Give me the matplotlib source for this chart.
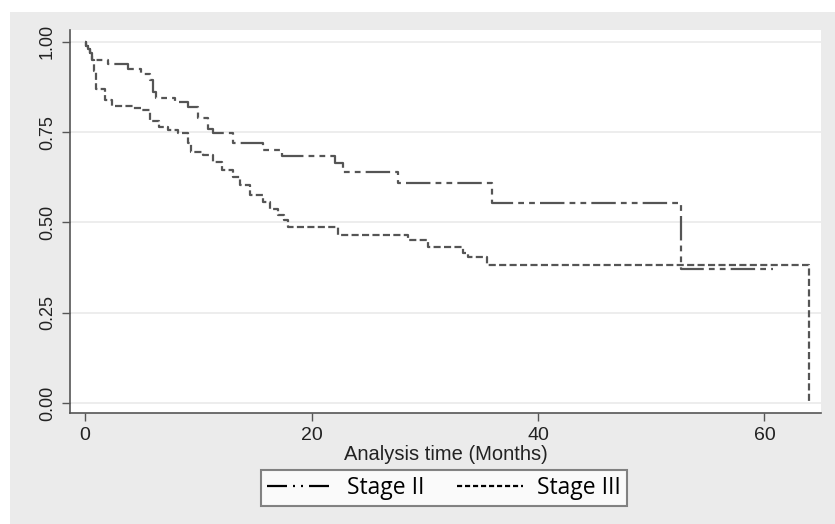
import matplotlib
matplotlib.use('Agg')
import matplotlib.pyplot as plt
from matplotlib.patches import Rectangle

# Kaplan-Meier estimates (time in months, survival after the step)
stage2_time = [0, 0.1, 0.25, 0.4, 0.6, 2.0, 3.8, 4.9, 5.7, 6.0, 6.3, 7.9, 9.1, 10.0, 10.9, 11.3,
               13.1, 15.7, 17.4, 22.1, 22.8, 27.6, 35.9, 52.6, 60.8]
stage2_surv = [1.0, 0.99, 0.98, 0.97, 0.95, 0.94, 0.925, 0.91, 0.894, 0.86, 0.844, 0.833, 0.82,
               0.79, 0.76, 0.747, 0.72, 0.70, 0.683, 0.664, 0.64, 0.61, 0.553, 0.37, 0.37]

stage3_time = [0, 0.1, 0.25, 0.4, 0.6, 0.8, 1.0, 1.8, 2.4, 4.2, 5.0, 5.7, 6.5, 7.3, 8.2, 9.1,
               9.4, 10.4, 11.3, 12.1, 13.1, 13.7, 14.6, 15.7, 16.3, 17.0, 17.6, 17.9, 22.3,
               28.5, 30.3, 33.4, 33.8, 35.5, 63.9]
stage3_surv = [1.0, 0.99, 0.98, 0.97, 0.95, 0.92, 0.87, 0.84, 0.822, 0.817, 0.81, 0.78, 0.765,
               0.756, 0.747, 0.72, 0.695, 0.686, 0.668, 0.645, 0.627, 0.603, 0.575, 0.556,
               0.538, 0.52, 0.506, 0.487, 0.464, 0.45, 0.433, 0.415, 0.403, 0.383, 0.0]

x_ticks = [0, 20, 40, 60]
y_ticks = [0.0, 0.25, 0.5, 0.75, 1.0]
y_labels = ['0.00', '0.25', '0.50', '0.75', '1.00']
labels = ['Stage II', 'Stage III']

axis_font = ['Liberation Sans', 'DejaVu Sans']
line_col = '#555555'
lw = 1.6

fig = plt.figure(figsize=(8.35, 5.24), dpi=100, facecolor='white')
# grey Stata-like background panel
fig.patches.append(Rectangle((10 / 835, 0), 1, 1 - 12 / 524, transform=fig.transFigure,
                             facecolor='#ebebeb', edgecolor='none', zorder=-10))

ax = fig.add_axes([70 / 835, 111 / 524, 751 / 835, 383 / 524])
ax.set_facecolor('white')

# dash lengths are in multiples of the line width
l2, = ax.step(stage2_time, stage2_surv, where='post', color=line_col, lw=lw,
              dashes=(11, 2.3, 2.6, 2.3, 2.6, 2.3))
l3, = ax.step(stage3_time, stage3_surv, where='post', color=line_col, lw=lw,
              dashes=(3.2, 1.5))

ax.set_xlim(-1.33, 65.0)
ax.set_ylim(-0.028, 1.033)
ax.set_xticks(x_ticks)
ax.set_yticks(y_ticks)
ax.set_yticklabels(y_labels, rotation=90, va='center')
for t in ax.get_xticklabels():
    t.set_family(axis_font)
    t.set_fontsize(14)
    t.set_color('#222222')
for t in ax.get_yticklabels():
    t.set_family(axis_font)
    t.set_fontsize(13)
    t.set_color('#222222')
ax.tick_params(length=6, width=1, color='#555555', pad=4)
ax.tick_params(axis='x', pad=4)
ax.grid(axis='y', color='#eaeaea', lw=1.2)
ax.set_axisbelow(True)
for s in ['top', 'right']:
    ax.spines[s].set_visible(False)
for s in ['left', 'bottom']:
    ax.spines[s].set_color('#555555')
    ax.spines[s].set_linewidth(1.2)

ax.set_xlabel('Analysis time (Months)', family=axis_font, fontsize=14.5, color='#222222',
              labelpad=1)

leg = fig.legend([l2, l3], labels, loc='center', bbox_to_anchor=(444 / 835, 1 - 488 / 524),
                 ncol=2, frameon=True, fancybox=False, handlelength=2.9, columnspacing=1.4,
                 handletextpad=0.6, borderpad=0.25, borderaxespad=0,
                 prop={'family': ['Open Sans', 'DejaVu Sans'], 'size': 16.5})
leg.get_frame().set_edgecolor('#666666')
leg.get_frame().set_linewidth(1.5)
h2, h3 = leg.get_lines()
for h in (h2, h3):
    h.set_color('black')
    h.set_linewidth(lw)
h2.set_dashes((9, 2.7, 0.9, 2.7, 0.9, 2.7))
h3.set_dashes((2.3, 1.3))

fig.savefig('out.png', dpi=100, facecolor='white')
